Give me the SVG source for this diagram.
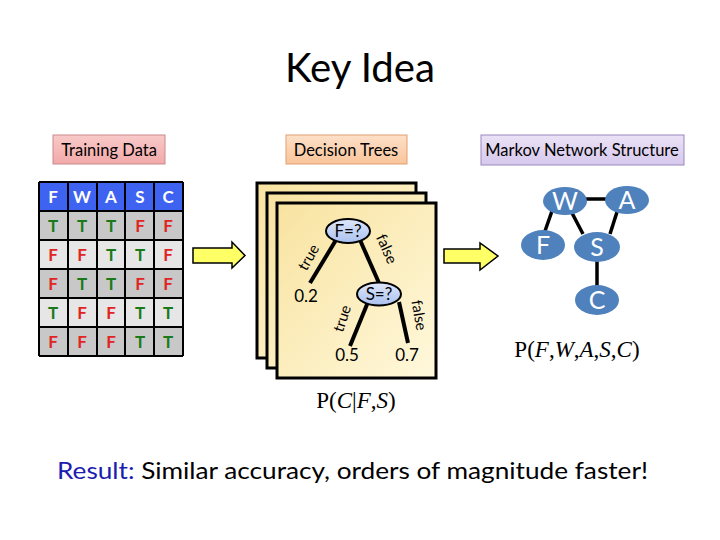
<svg xmlns="http://www.w3.org/2000/svg" width="720" height="540" viewBox="0 0 720 540">
<defs>
<linearGradient id="card" x1="0" y1="0" x2="1" y2="1">
<stop offset="0" stop-color="#f8e3a0"/><stop offset="1" stop-color="#fff8dc"/>
</linearGradient>
<linearGradient id="dnode" x1="0" y1="0" x2="0" y2="1">
<stop offset="0" stop-color="#dfe8fb"/><stop offset="1" stop-color="#a9c0ee"/>
</linearGradient>
<linearGradient id="pink" x1="0" y1="0" x2="0" y2="1">
<stop offset="0" stop-color="#f9c9c9"/><stop offset="1" stop-color="#f2a9a9"/>
</linearGradient>
<linearGradient id="peach" x1="0" y1="0" x2="0" y2="1">
<stop offset="0" stop-color="#fde0c8"/><stop offset="1" stop-color="#f9c49a"/>
</linearGradient>
<linearGradient id="lav" x1="0" y1="0" x2="0" y2="1">
<stop offset="0" stop-color="#ebe2f6"/><stop offset="1" stop-color="#d6c8ec"/>
</linearGradient>
</defs>
<style>
.t{font-family:Lato,"Liberation Sans",sans-serif}
.hdr{font-family:Lato,"Liberation Sans",sans-serif;font-size:17px;font-weight:bold;fill:#fff;text-anchor:middle}
.cT{font-family:Lato,"Liberation Sans",sans-serif;font-size:17px;font-weight:bold;fill:#1a7a1a;text-anchor:middle}
.cF{font-family:Lato,"Liberation Sans",sans-serif;font-size:17px;font-weight:bold;fill:#e02424;text-anchor:middle}
.lbl{font-family:Lato,"Liberation Sans",sans-serif;font-size:16.5px;fill:#000;text-anchor:middle}
.grid{stroke:#000;stroke-width:2;fill:none}
.arrow{fill:#ffff66;stroke:#000;stroke-width:1.5;stroke-linejoin:miter}
.cardr{fill:url(#card);stroke:#000;stroke-width:3}
.edge{stroke:#000;stroke-width:4;fill:none}
.dn{fill:url(#dnode);stroke:#000;stroke-width:2}
.dt{font-family:Lato,"Liberation Sans",sans-serif;font-size:17px;fill:#000;text-anchor:middle}
.el{font-family:Lato,"Liberation Sans",sans-serif;font-size:15px;fill:#000;text-anchor:middle}
.mn{fill:#4f81bd}
.mt{font-family:Lato,"Liberation Sans",sans-serif;font-size:25px;fill:#fff;text-anchor:middle}
.medge{stroke:#000;stroke-width:3.5}
.math{font-family:"Liberation Serif",serif;font-size:23px;fill:#000;text-anchor:middle}
</style>

<text class="t" x="360" y="82" font-size="40" text-anchor="middle" textLength="150" lengthAdjust="spacingAndGlyphs">Key Idea</text>

<g id="training-data-label">
<rect x="53" y="135" width="112" height="29" fill="url(#pink)" stroke="#c98a8a" stroke-width="1"/>
<text class="lbl" x="109" y="156">Training Data</text>
</g>

<g id="table">
<rect x="39" y="182" width="144" height="29" fill="#3d63f0"/>
<rect x="39" y="211" width="144" height="29" fill="#c8c8c8"/>
<rect x="39" y="240" width="144" height="29" fill="#e6e6e6"/>
<rect x="39" y="269" width="144" height="29" fill="#c8c8c8"/>
<rect x="39" y="298" width="144" height="29" fill="#e6e6e6"/>
<rect x="39" y="327" width="144" height="29" fill="#c8c8c8"/>
<path class="grid" d="M39 182H183M39 211H183M39 240H183M39 269H183M39 298H183M39 327H183M39 356H183M39 182V356M68 182V356M97 182V356M125 182V356M154 182V356M183 182V356"/>
<text class="hdr" x="53" y="203">F</text><text class="hdr" x="82" y="203">W</text><text class="hdr" x="111" y="203">A</text><text class="hdr" x="140" y="203">S</text><text class="hdr" x="168" y="203">C</text>
<text class="cT" x="53" y="232">T</text><text class="cT" x="82" y="232">T</text><text class="cT" x="111" y="232">T</text><text class="cF" x="140" y="232">F</text><text class="cF" x="168" y="232">F</text>
<text class="cF" x="53" y="261">F</text><text class="cF" x="82" y="261">F</text><text class="cT" x="111" y="261">T</text><text class="cT" x="140" y="261">T</text><text class="cF" x="168" y="261">F</text>
<text class="cF" x="53" y="290">F</text><text class="cT" x="82" y="290">T</text><text class="cT" x="111" y="290">T</text><text class="cF" x="140" y="290">F</text><text class="cF" x="168" y="290">F</text>
<text class="cT" x="53" y="319">T</text><text class="cF" x="82" y="319">F</text><text class="cF" x="111" y="319">F</text><text class="cT" x="140" y="319">T</text><text class="cT" x="168" y="319">T</text>
<text class="cF" x="53" y="348">F</text><text class="cF" x="82" y="348">F</text><text class="cF" x="111" y="348">F</text><text class="cT" x="140" y="348">T</text><text class="cT" x="168" y="348">T</text>
</g>

<g id="arrow1">
<path class="arrow" d="M193 248H232V242L245 255.5L232 268V263H193Z"/>
</g>

<g id="decision-trees-label">
<rect x="286" y="135" width="121" height="29" fill="url(#peach)" stroke="#e0a070" stroke-width="1"/>
<text class="lbl" x="346" y="156">Decision Trees</text>
</g>

<g id="cards">
<rect class="cardr" x="257" y="183" width="159" height="175"/>
<rect class="cardr" x="267" y="193" width="159" height="175"/>
<rect class="cardr" x="277" y="203" width="159" height="175"/>
</g>

<g id="tree-edges">
<line class="edge" x1="336" y1="240" x2="310" y2="283"/>
<line class="edge" x1="360" y1="240" x2="379" y2="283"/>
<line class="edge" x1="368" y1="302" x2="350" y2="346"/>
<line class="edge" x1="399" y1="302" x2="408" y2="343"/>
<text class="el" transform="translate(313,260) rotate(-60)">true</text>
<text class="el" transform="translate(382,251) rotate(66)">false</text>
<text class="el" transform="translate(347,320) rotate(-72)">true</text>
<text class="el" transform="translate(414,316) rotate(80)">false</text>
</g>

<g id="node-F-q">
<ellipse class="dn" cx="348" cy="231" rx="22" ry="12"/>
<text class="dt" x="348" y="237">F=?</text>
</g>
<g id="node-S-q">
<ellipse class="dn" cx="379" cy="294" rx="22" ry="11.5"/>
<text class="dt" x="379" y="300">S=?</text>
</g>
<g id="leaf-02"><text class="dt" x="306" y="302">0.2</text></g>
<g id="leaf-05"><text class="dt" x="347" y="361">0.5</text></g>
<g id="leaf-07"><text class="dt" x="407" y="361">0.7</text></g>

<text class="math" x="356" y="408">P(<tspan font-style="italic">C</tspan>|<tspan font-style="italic">F</tspan>,<tspan font-style="italic">S</tspan>)</text>

<g id="arrow2">
<path class="arrow" d="M444 249H480V243L498 256L480 270V263H444Z"/>
</g>

<g id="markov-label">
<rect x="481" y="135" width="203" height="30" fill="url(#lav)" stroke="#9a88c0" stroke-width="1"/>
<text class="lbl" x="582" y="156">Markov Network Structure</text>
</g>

<g id="markov-edges">
<line class="medge" x1="585" y1="199" x2="608" y2="199"/>
<line class="medge" x1="552" y1="211" x2="545" y2="231"/>
<line class="medge" x1="572" y1="213" x2="583" y2="234"/>
<line class="medge" x1="617" y1="212" x2="610" y2="234"/>
<line class="medge" x1="597" y1="261" x2="597" y2="287"/>
</g>
<g id="mn-W"><ellipse class="mn" cx="565" cy="201" rx="22" ry="14"/><text class="mt" x="565" y="210">W</text></g>
<g id="mn-A"><ellipse class="mn" cx="627" cy="200" rx="22" ry="14"/><text class="mt" x="627" y="209">A</text></g>
<g id="mn-F"><ellipse class="mn" cx="543" cy="245" rx="22" ry="15"/><text class="mt" x="543" y="254">F</text></g>
<g id="mn-S"><ellipse class="mn" cx="597" cy="247" rx="23" ry="15"/><text class="mt" x="597" y="256">S</text></g>
<g id="mn-C"><ellipse class="mn" cx="597" cy="300" rx="22" ry="15"/><text class="mt" x="597" y="309">C</text></g>

<text class="math" x="577" y="357">P(<tspan font-style="italic">F</tspan>,<tspan font-style="italic">W</tspan>,<tspan font-style="italic">A</tspan>,<tspan font-style="italic">S</tspan>,<tspan font-style="italic">C</tspan>)</text>

<text class="t" x="57" y="479" font-size="24" textLength="591" lengthAdjust="spacingAndGlyphs"><tspan fill="#1c1cb0">Result:</tspan> Similar accuracy, orders of magnitude faster!</text>
</svg>
